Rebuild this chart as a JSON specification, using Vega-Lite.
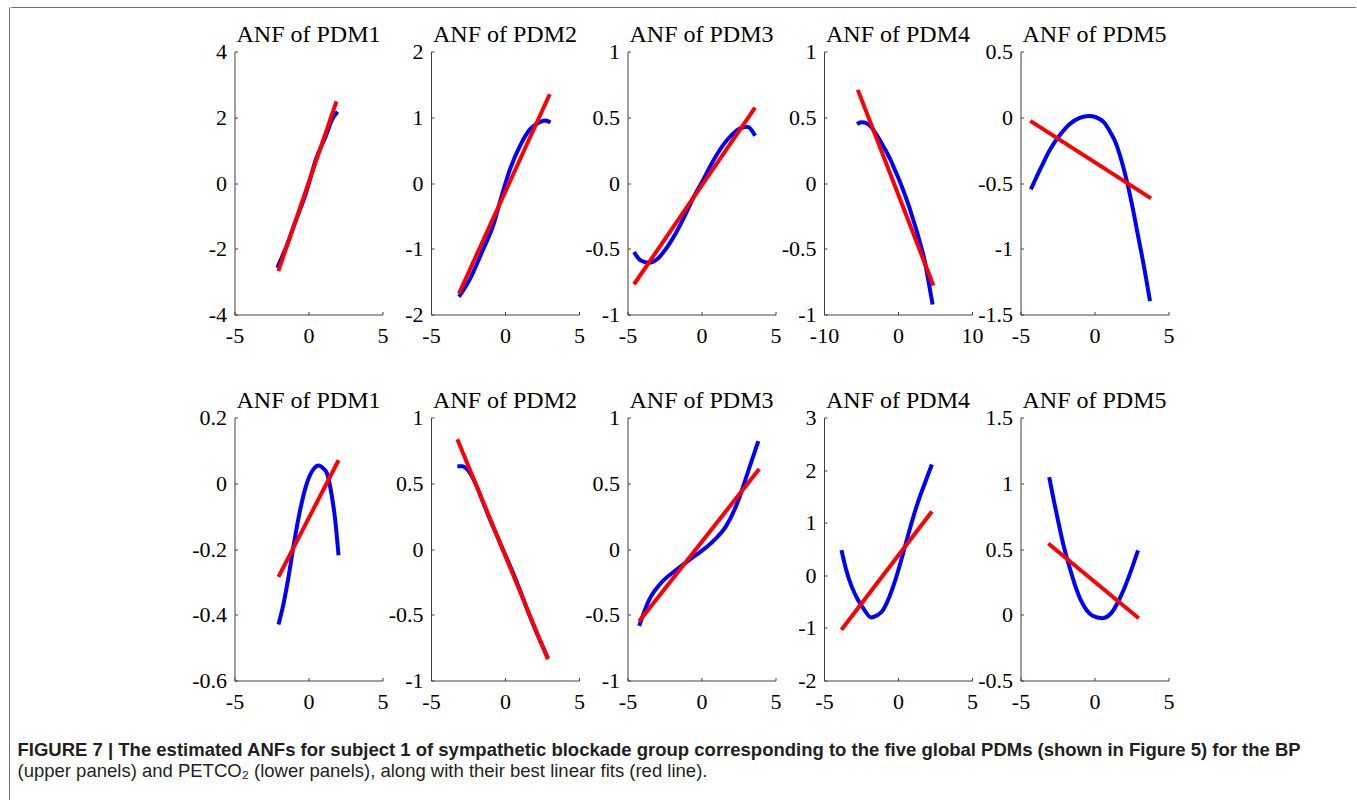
{
"$schema": "https://vega.github.io/schema/vega-lite/v6.json",
"padding": {"left": 8, "top": 6, "right": 2, "bottom": 0},
"data": {"values": [
{"panel":1,"series":"ANF","x":-2.11,"y":-2.58},{"panel":1,"series":"ANF","x":-1.49,"y":-1.92},{"panel":1,"series":"ANF","x":-0.82,"y":-1.1},{"panel":1,"series":"ANF","x":-0.16,"y":-0.29},{"panel":1,"series":"ANF","x":0.51,"y":0.73},{"panel":1,"series":"ANF","x":1.18,"y":1.44},{"panel":1,"series":"ANF","x":1.62,"y":1.95},{"panel":1,"series":"ANF","x":1.96,"y":2.17},
{"panel":1,"series":"fit","x":-2.04,"y":-2.68},{"panel":1,"series":"fit","x":1.89,"y":2.48},
{"panel":2,"series":"ANF","x":-3.11,"y":-1.73},{"panel":2,"series":"ANF","x":-2.39,"y":-1.47},{"panel":2,"series":"ANF","x":-1.48,"y":-1.01},{"panel":2,"series":"ANF","x":-0.8,"y":-0.65},{"panel":2,"series":"ANF","x":-0.23,"y":-0.2},{"panel":2,"series":"ANF","x":0.34,"y":0.21},{"panel":2,"series":"ANF","x":1.02,"y":0.57},{"panel":2,"series":"ANF","x":1.7,"y":0.82},{"panel":2,"series":"ANF","x":2.39,"y":0.93},{"panel":2,"series":"ANF","x":2.73,"y":0.95},{"panel":2,"series":"ANF","x":3.07,"y":0.92},
{"panel":2,"series":"fit","x":-3.11,"y":-1.68},{"panel":2,"series":"fit","x":3.02,"y":1.35},
{"panel":3,"series":"ANF","x":-4.56,"y":-0.525},{"panel":3,"series":"ANF","x":-4.1,"y":-0.59},{"panel":3,"series":"ANF","x":-3.56,"y":-0.607},{"panel":3,"series":"ANF","x":-3.0,"y":-0.58},{"panel":3,"series":"ANF","x":-2.4,"y":-0.5},{"panel":3,"series":"ANF","x":-1.72,"y":-0.378},{"panel":3,"series":"ANF","x":-1.0,"y":-0.22},{"panel":3,"series":"ANF","x":-0.5,"y":-0.1},{"panel":3,"series":"ANF","x":0.0,"y":0.0},{"panel":3,"series":"ANF","x":0.7,"y":0.15},{"panel":3,"series":"ANF","x":1.41,"y":0.28},{"panel":3,"series":"ANF","x":2.0,"y":0.36},{"panel":3,"series":"ANF","x":2.72,"y":0.42},{"panel":3,"series":"ANF","x":3.1,"y":0.427},{"panel":3,"series":"ANF","x":3.62,"y":0.36},
{"panel":3,"series":"fit","x":-4.56,"y":-0.77},{"panel":3,"series":"fit","x":3.62,"y":0.574},
{"panel":4,"series":"ANF","x":-5.53,"y":0.447},{"panel":4,"series":"ANF","x":-5.0,"y":0.462},{"panel":4,"series":"ANF","x":-4.5,"y":0.46},{"panel":4,"series":"ANF","x":-4.0,"y":0.445},{"panel":4,"series":"ANF","x":-3.5,"y":0.418},{"panel":4,"series":"ANF","x":-3.0,"y":0.375},{"panel":4,"series":"ANF","x":-2.5,"y":0.33},{"panel":4,"series":"ANF","x":-2.0,"y":0.28},{"panel":4,"series":"ANF","x":-1.5,"y":0.23},{"panel":4,"series":"ANF","x":-1.0,"y":0.175},{"panel":4,"series":"ANF","x":-0.5,"y":0.11},{"panel":4,"series":"ANF","x":0.0,"y":0.045},{"panel":4,"series":"ANF","x":0.5,"y":-0.025},{"panel":4,"series":"ANF","x":1.0,"y":-0.1},{"panel":4,"series":"ANF","x":1.5,"y":-0.18},{"panel":4,"series":"ANF","x":2.0,"y":-0.27},{"panel":4,"series":"ANF","x":2.5,"y":-0.36},{"panel":4,"series":"ANF","x":3.0,"y":-0.46},{"panel":4,"series":"ANF","x":3.5,"y":-0.565},{"panel":4,"series":"ANF","x":4.0,"y":-0.71},{"panel":4,"series":"ANF","x":4.68,"y":-0.924},
{"panel":4,"series":"fit","x":-5.43,"y":0.708},{"panel":4,"series":"fit","x":4.78,"y":-0.779},
{"panel":5,"series":"ANF","x":-4.3,"y":-0.548},{"panel":5,"series":"ANF","x":-3.6,"y":-0.38},{"panel":5,"series":"ANF","x":-2.99,"y":-0.244},{"panel":5,"series":"ANF","x":-2.3,"y":-0.13},{"panel":5,"series":"ANF","x":-1.69,"y":-0.053},{"panel":5,"series":"ANF","x":-1.0,"y":-0.005},{"panel":5,"series":"ANF","x":-0.39,"y":0.01},{"panel":5,"series":"ANF","x":0.1,"y":0.0},{"panel":5,"series":"ANF","x":0.65,"y":-0.04},{"panel":5,"series":"ANF","x":1.1,"y":-0.12},{"panel":5,"series":"ANF","x":1.43,"y":-0.193},{"panel":5,"series":"ANF","x":1.8,"y":-0.32},{"panel":5,"series":"ANF","x":2.21,"y":-0.497},{"panel":5,"series":"ANF","x":2.6,"y":-0.7},{"panel":5,"series":"ANF","x":2.99,"y":-0.929},{"panel":5,"series":"ANF","x":3.4,"y":-1.17},{"panel":5,"series":"ANF","x":3.75,"y":-1.398},
{"panel":5,"series":"fit","x":-4.34,"y":-0.028},{"panel":5,"series":"fit","x":3.82,"y":-0.617},
{"panel":6,"series":"ANF","x":-2.03,"y":-0.43},{"panel":6,"series":"ANF","x":-1.69,"y":-0.367},{"panel":6,"series":"ANF","x":-1.35,"y":-0.285},{"panel":6,"series":"ANF","x":-1.01,"y":-0.19},{"panel":6,"series":"ANF","x":-0.56,"y":-0.08},{"panel":6,"series":"ANF","x":-0.11,"y":0.0},{"panel":6,"series":"ANF","x":0.34,"y":0.043},{"panel":6,"series":"ANF","x":0.68,"y":0.054},{"panel":6,"series":"ANF","x":1.0,"y":0.045},{"panel":6,"series":"ANF","x":1.24,"y":0.031},{"panel":6,"series":"ANF","x":1.58,"y":-0.04},{"panel":6,"series":"ANF","x":1.8,"y":-0.11},{"panel":6,"series":"ANF","x":2.03,"y":-0.219},
{"panel":6,"series":"fit","x":-2.03,"y":-0.285},{"panel":6,"series":"fit","x":2.03,"y":0.07},
{"panel":7,"series":"ANF","x":-3.22,"y":0.63},{"panel":7,"series":"ANF","x":-2.9,"y":0.63},{"panel":7,"series":"ANF","x":-2.5,"y":0.6},{"panel":7,"series":"ANF","x":-2.0,"y":0.5},{"panel":7,"series":"ANF","x":-1.5,"y":0.36},{"panel":7,"series":"ANF","x":-1.0,"y":0.22},{"panel":7,"series":"ANF","x":-0.5,"y":0.09},{"panel":7,"series":"ANF","x":0.0,"y":-0.04},{"panel":7,"series":"ANF","x":0.5,"y":-0.17},{"panel":7,"series":"ANF","x":1.0,"y":-0.31},{"panel":7,"series":"ANF","x":1.5,"y":-0.46},{"panel":7,"series":"ANF","x":2.0,"y":-0.6},{"panel":7,"series":"ANF","x":2.5,"y":-0.73},{"panel":7,"series":"ANF","x":2.9,"y":-0.83},
{"panel":7,"series":"fit","x":-3.22,"y":0.834},{"panel":7,"series":"fit","x":2.9,"y":-0.839},
{"panel":8,"series":"ANF","x":-4.21,"y":-0.584},{"panel":8,"series":"ANF","x":-3.56,"y":-0.392},{"panel":8,"series":"ANF","x":-2.78,"y":-0.264},{"panel":8,"series":"ANF","x":-1.74,"y":-0.162},{"panel":8,"series":"ANF","x":-0.7,"y":-0.073},{"panel":8,"series":"ANF","x":0.08,"y":-0.009},{"panel":8,"series":"ANF","x":0.86,"y":0.068},{"panel":8,"series":"ANF","x":1.64,"y":0.17},{"panel":8,"series":"ANF","x":2.42,"y":0.349},{"panel":8,"series":"ANF","x":3.19,"y":0.604},{"panel":8,"series":"ANF","x":3.84,"y":0.821},
{"panel":8,"series":"fit","x":-4.21,"y":-0.55},{"panel":8,"series":"fit","x":3.9,"y":0.609},
{"panel":9,"series":"ANF","x":-3.82,"y":0.479},{"panel":9,"series":"ANF","x":-3.5,"y":0.1},{"panel":9,"series":"ANF","x":-3.12,"y":-0.22},{"panel":9,"series":"ANF","x":-2.7,"y":-0.47},{"panel":9,"series":"ANF","x":-2.34,"y":-0.63},{"panel":9,"series":"ANF","x":-1.82,"y":-0.8},{"panel":9,"series":"ANF","x":-1.4,"y":-0.76},{"panel":9,"series":"ANF","x":-1.04,"y":-0.67},{"panel":9,"series":"ANF","x":-0.6,"y":-0.42},{"panel":9,"series":"ANF","x":-0.26,"y":-0.16},{"panel":9,"series":"ANF","x":0.13,"y":0.2},{"panel":9,"series":"ANF","x":0.52,"y":0.6},{"panel":9,"series":"ANF","x":0.9,"y":0.98},{"panel":9,"series":"ANF","x":1.3,"y":1.35},{"panel":9,"series":"ANF","x":1.8,"y":1.74},{"panel":9,"series":"ANF","x":2.29,"y":2.107},
{"panel":9,"series":"fit","x":-3.82,"y":-1.034},{"panel":9,"series":"fit","x":2.29,"y":1.213},
{"panel":10,"series":"ANF","x":-3.06,"y":1.047},{"panel":10,"series":"ANF","x":-2.75,"y":0.87},{"panel":10,"series":"ANF","x":-2.47,"y":0.72},{"panel":10,"series":"ANF","x":-2.1,"y":0.53},{"panel":10,"series":"ANF","x":-1.69,"y":0.363},{"panel":10,"series":"ANF","x":-1.3,"y":0.22},{"panel":10,"series":"ANF","x":-0.91,"y":0.107},{"panel":10,"series":"ANF","x":-0.5,"y":0.03},{"panel":10,"series":"ANF","x":-0.13,"y":-0.008},{"panel":10,"series":"ANF","x":0.52,"y":-0.026},{"panel":10,"series":"ANF","x":1.17,"y":0.018},{"panel":10,"series":"ANF","x":1.6,"y":0.1},{"panel":10,"series":"ANF","x":1.95,"y":0.184},{"panel":10,"series":"ANF","x":2.45,"y":0.33},{"panel":10,"series":"ANF","x":2.94,"y":0.49},
{"panel":10,"series":"fit","x":-3.12,"y":0.542},{"panel":10,"series":"fit","x":2.99,"y":-0.026}
]},
"spacing": 0,
"hconcat": [
 {"width": 0.01, "height": 792, "data": {"values": []}, "mark": "rule", "encoding": {}, "view": {"stroke": "#707070", "strokeWidth": 1}},
 {"vconcat": [
   {"width": 1344, "height": 0.01, "data": {"values": []}, "mark": "rule", "encoding": {}, "view": {"stroke": "#707070", "strokeWidth": 1}},
   {"concat": [
       {"width": 174.5, "height": 263, "data": {"values": []}, "mark": "rule", "encoding": {}, "view": {"fill": "#ffffff"}},
       {"width":148,"height":263,"title":"ANF of PDM1","transform":[{"filter":"datum.panel == 1"}],"mark":"line",
        "encoding":{"x":{"field":"x","type":"quantitative","scale":{"domain":[-5,5],"nice":false},"axis":{"values":[-5,0,5],"title":null}},
         "y":{"field":"y","type":"quantitative","scale":{"domain":[-4,4],"nice":false,"zero":false},"axis":{"values":[-4,-2,0,2,4],"title":null}},
         "color":{"field":"series","type":"nominal","scale":{"domain":["ANF","fit"],"range":["#0000ff","#ff0000"]},"legend":null}}},
       {"width":148,"height":263,"title":"ANF of PDM2","transform":[{"filter":"datum.panel == 2"}],"mark":"line",
        "encoding":{"x":{"field":"x","type":"quantitative","scale":{"domain":[-5,5],"nice":false},"axis":{"values":[-5,0,5],"title":null}},
         "y":{"field":"y","type":"quantitative","scale":{"domain":[-2,2],"nice":false,"zero":false},"axis":{"values":[-2,-1,0,1,2],"title":null}},
         "color":{"field":"series","type":"nominal","scale":{"domain":["ANF","fit"],"range":["#0000ff","#ff0000"]},"legend":null}}},
       {"width":148,"height":263,"title":"ANF of PDM3","transform":[{"filter":"datum.panel == 3"}],"mark":"line",
        "encoding":{"x":{"field":"x","type":"quantitative","scale":{"domain":[-5,5],"nice":false},"axis":{"values":[-5,0,5],"title":null}},
         "y":{"field":"y","type":"quantitative","scale":{"domain":[-1,1],"nice":false,"zero":false},"axis":{"values":[-1,-0.5,0,0.5,1],"title":null}},
         "color":{"field":"series","type":"nominal","scale":{"domain":["ANF","fit"],"range":["#0000ff","#ff0000"]},"legend":null}}},
       {"width":148,"height":263,"title":"ANF of PDM4","transform":[{"filter":"datum.panel == 4"}],"mark":"line",
        "encoding":{"x":{"field":"x","type":"quantitative","scale":{"domain":[-10,10],"nice":false},"axis":{"values":[-10,0,10],"title":null}},
         "y":{"field":"y","type":"quantitative","scale":{"domain":[-1,1],"nice":false,"zero":false},"axis":{"values":[-1,-0.5,0,0.5,1],"title":null}},
         "color":{"field":"series","type":"nominal","scale":{"domain":["ANF","fit"],"range":["#0000ff","#ff0000"]},"legend":null}}},
       {"width":148,"height":263,"title":"ANF of PDM5","transform":[{"filter":"datum.panel == 5"}],"mark":"line",
        "encoding":{"x":{"field":"x","type":"quantitative","scale":{"domain":[-5,5],"nice":false},"axis":{"values":[-5,0,5],"title":null}},
         "y":{"field":"y","type":"quantitative","scale":{"domain":[-1.5,0.5],"nice":false,"zero":false},"axis":{"values":[-1.5,-1,-0.5,0,0.5],"title":null}},
         "color":{"field":"series","type":"nominal","scale":{"domain":["ANF","fit"],"range":["#0000ff","#ff0000"]},"legend":null}}},
       {"width": 174.5, "height": 263, "data": {"values": []}, "mark": "rule", "encoding": {}, "view": {"fill": "#ffffff"}},
       {"width":148,"height":263,"title":"ANF of PDM1","transform":[{"filter":"datum.panel == 6"}],"mark":"line",
        "encoding":{"x":{"field":"x","type":"quantitative","scale":{"domain":[-5,5],"nice":false},"axis":{"values":[-5,0,5],"title":null}},
         "y":{"field":"y","type":"quantitative","scale":{"domain":[-0.6,0.2],"nice":false,"zero":false},"axis":{"values":[-0.6,-0.4,-0.2,0,0.2],"title":null}},
         "color":{"field":"series","type":"nominal","scale":{"domain":["ANF","fit"],"range":["#0000ff","#ff0000"]},"legend":null}}},
       {"width":148,"height":263,"title":"ANF of PDM2","transform":[{"filter":"datum.panel == 7"}],"mark":"line",
        "encoding":{"x":{"field":"x","type":"quantitative","scale":{"domain":[-5,5],"nice":false},"axis":{"values":[-5,0,5],"title":null}},
         "y":{"field":"y","type":"quantitative","scale":{"domain":[-1,1],"nice":false,"zero":false},"axis":{"values":[-1,-0.5,0,0.5,1],"title":null}},
         "color":{"field":"series","type":"nominal","scale":{"domain":["ANF","fit"],"range":["#0000ff","#ff0000"]},"legend":null}}},
       {"width":148,"height":263,"title":"ANF of PDM3","transform":[{"filter":"datum.panel == 8"}],"mark":"line",
        "encoding":{"x":{"field":"x","type":"quantitative","scale":{"domain":[-5,5],"nice":false},"axis":{"values":[-5,0,5],"title":null}},
         "y":{"field":"y","type":"quantitative","scale":{"domain":[-1,1],"nice":false,"zero":false},"axis":{"values":[-1,-0.5,0,0.5,1],"title":null}},
         "color":{"field":"series","type":"nominal","scale":{"domain":["ANF","fit"],"range":["#0000ff","#ff0000"]},"legend":null}}},
       {"width":148,"height":263,"title":"ANF of PDM4","transform":[{"filter":"datum.panel == 9"}],"mark":"line",
        "encoding":{"x":{"field":"x","type":"quantitative","scale":{"domain":[-5,5],"nice":false},"axis":{"values":[-5,0,5],"title":null}},
         "y":{"field":"y","type":"quantitative","scale":{"domain":[-2,3],"nice":false,"zero":false},"axis":{"values":[-2,-1,0,1,2,3],"title":null}},
         "color":{"field":"series","type":"nominal","scale":{"domain":["ANF","fit"],"range":["#0000ff","#ff0000"]},"legend":null}}},
       {"width":148,"height":263,"title":"ANF of PDM5","transform":[{"filter":"datum.panel == 10"}],"mark":"line",
        "encoding":{"x":{"field":"x","type":"quantitative","scale":{"domain":[-5,5],"nice":false},"axis":{"values":[-5,0,5],"title":null}},
         "y":{"field":"y","type":"quantitative","scale":{"domain":[-0.5,1.5],"nice":false,"zero":false},"axis":{"values":[-0.5,0,0.5,1,1.5],"title":null}},
         "color":{"field":"series","type":"nominal","scale":{"domain":["ANF","fit"],"range":["#0000ff","#ff0000"]},"legend":null}}}
   ], "columns": 6, "align": "each", "bounds": "flush", "spacing": {"row": 103, "column": 48.5}}
 ], "spacing": 14.5,
 "title": {"text": "FIGURE 7 | The estimated ANFs for subject 1 of sympathetic blockade group corresponding to the five global PDMs (shown in Figure 5) for the BP",
   "subtitle": "(upper panels) and PETCO₂ (lower panels), along with their best linear fits (red line).",
   "orient": "bottom", "anchor": "start", "frame": "bounds", "dx": 7, "offset": 28,
   "font": "Liberation Sans", "fontSize": 18.5, "fontWeight": "bold", "color": "#231f20", "baseline": "top",
   "subtitleFont": "Liberation Sans", "subtitleFontSize": 18.5, "subtitleFontWeight": "normal", "subtitleColor": "#231f20", "subtitlePadding": 3}},
 {"width": 0.01, "height": 792, "data": {"values": []}, "mark": "rule", "encoding": {}, "view": {"stroke": "#707070", "strokeWidth": 1}}
],
"config": {
 "view": {"stroke": null},
 "line": {"strokeWidth": 4, "interpolate": "monotone"},
 "axis": {"grid": false, "domainColor": "#404040", "tickColor": "#404040", "tickSize": -3, "labelFont": "Liberation Serif", "labelFontSize": 22, "labelColor": "#000000", "labelFlush": false, "labelOverlap": false, "labelExpr": "datum.value + ''"},
 "axisX": {"labelPadding": 14},
 "axisY": {"labelPadding": 11},
 "title": {"font": "Liberation Serif", "fontSize": 24, "fontWeight": "normal", "color": "#000000", "frame": "group", "baseline": "alphabetic", "offset": -6}
}
}
